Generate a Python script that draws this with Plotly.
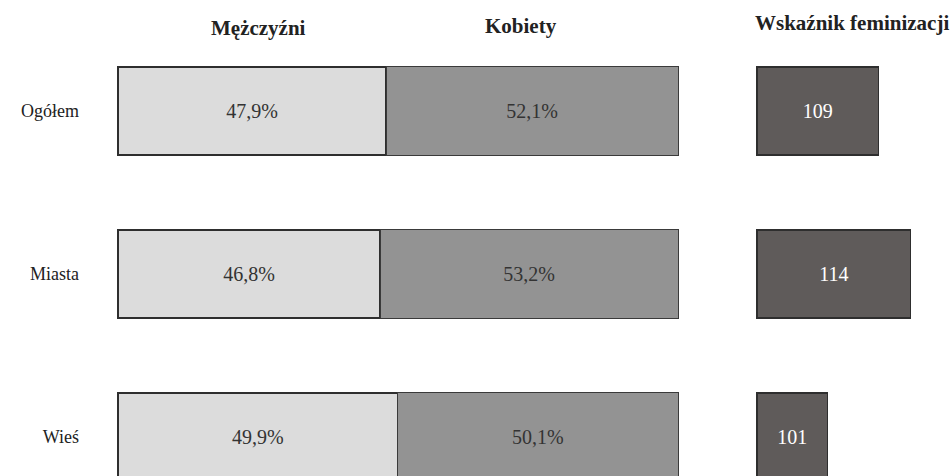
import plotly.graph_objects as go

categories = ["Ogółem", "Miasta", "Wieś"]
men = [47.9, 46.8, 49.9]
women = [52.1, 53.2, 50.1]
fem_index = [109, 114, 101]
headers = ["Mężczyźni", "Kobiety", "Wskaźnik feminizacji"]

W, H = 950, 476
FONT = "Liberation Serif, Times New Roman, serif"
index_base = 90

def pct(v):
    return f"{v:.1f}%".replace(".", ",")

fig = go.Figure()
fig.add_trace(go.Bar(
    y=categories, x=men, orientation="h", name=headers[0],
    marker=dict(color="#dcdcdc", line=dict(color="#2e2e2e", width=1.6)),
    text=[pct(v) for v in men], textposition="inside", insidetextanchor="middle",
    textangle=0, textfont=dict(family=FONT, size=20, color="#333333"),
    width=0.54, xaxis="x", yaxis="y", hoverinfo="skip",
))
fig.add_trace(go.Bar(
    y=categories, x=women, orientation="h", name=headers[1],
    marker=dict(color="#939393", line=dict(color="#3a3a3a", width=1)),
    text=[pct(v) for v in women], textposition="inside", insidetextanchor="middle",
    textangle=0, textfont=dict(family=FONT, size=20, color="#333333"),
    width=0.54, xaxis="x", yaxis="y", hoverinfo="skip",
))
fig.add_trace(go.Bar(
    y=categories, x=[v - index_base for v in fem_index], base=index_base,
    orientation="h", name=headers[2],
    marker=dict(color="#5f5b5a", line=dict(color="#2e2e2e", width=1.2)),
    text=[str(v) for v in fem_index], textposition="inside", insidetextanchor="middle",
    textangle=0, textfont=dict(family=FONT, size=20, color="#ffffff"),
    width=0.54, xaxis="x2", yaxis="y", hoverinfo="skip",
))

px_per_cat = 163.0
first_center = 111.0
y_top = -first_center / px_per_cat
y_bot = (H - first_center) / px_per_cat

left_px = 5.6   # px per percent
idx_px = 6.4    # px per index unit

fig.update_layout(
    width=W, height=H, barmode="stack", showlegend=False,
    margin=dict(l=0, r=0, t=0, b=0),
    paper_bgcolor="white", plot_bgcolor="white",
    uniformtext=dict(mode=False),
    font=dict(family=FONT, color="#222222"),
    xaxis=dict(domain=[116 / W, 680 / W], range=[-2 / left_px, 100 + 2 / left_px],
               visible=False, fixedrange=True),
    xaxis2=dict(domain=[754 / W, 1.0],
                range=[index_base - 3 / idx_px, index_base + (W - 757) / idx_px],
                visible=False, anchor="y", fixedrange=True),
    yaxis=dict(range=[y_bot, y_top], categoryorder="array", categoryarray=categories,
               showgrid=False, zeroline=False, showline=False, ticks="",
               ticklabelstandoff=36, tickfont=dict(family=FONT, size=18, color="#222222"),
               anchor="x", fixedrange=True),
)

header_x = [258, 521, 852]
header_y = [28, 26, 23]
for txt, hx, hy in zip(headers, header_x, header_y):
    fig.add_annotation(text=f"<b>{txt}</b>", x=hx / W, y=1 - hy / H, xref="paper", yref="paper",
                       showarrow=False, xanchor="center", yanchor="middle",
                       font=dict(family=FONT, size=21, color="#222222"))

fig.write_html("out.html", config={"displayModeBar": False},
               post_script="document.body.style.margin='0';document.body.style.overflow='hidden';")
